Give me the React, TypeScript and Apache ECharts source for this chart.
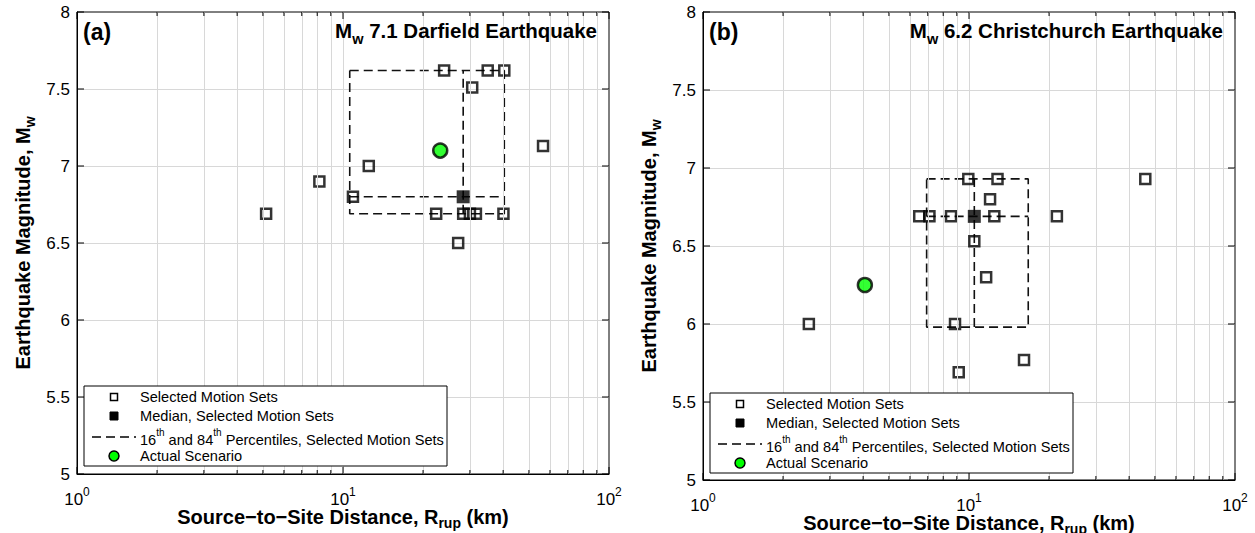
import React, { useEffect, useRef } from 'react';
import * as echarts from 'echarts';

// ---------- data ----------
const yTicks = [5, 5.5, 6, 6.5, 7, 7.5, 8];

// Panel (a) Mw 7.1 Darfield
const aSelR = [24.0, 35.0, 40.4, 30.6, 56.5, 12.5, 8.15, 10.9, 22.4, 28.3, 30.0, 31.6, 40.1, 27.1, 5.14];
const aSelM = [7.62, 7.62, 7.62, 7.51, 7.13, 7.0, 6.9, 6.8, 6.69, 6.69, 6.69, 6.69, 6.69, 6.5, 6.69];
const aMed = [28.3, 6.8];
const aPctR = [10.6, 40.4];
const aPctM = [6.69, 7.62];
const aAct = [23.2, 7.1];

// Panel (b) Mw 6.2 Christchurch
const bSelR = [9.94, 12.8, 12.0, 6.5, 7.1, 8.56, 12.45, 21.4, 10.47, 11.6, 8.86, 16.1, 9.15, 2.5, 46.0];
const bSelM = [6.93, 6.93, 6.8, 6.69, 6.69, 6.69, 6.69, 6.69, 6.53, 6.3, 6.0, 5.77, 5.69, 6.0, 6.93];
const bMed = [10.47, 6.69];
const bPctR = [6.93, 16.7];
const bPctM = [5.98, 6.93];
const bAct = [4.06, 6.25];

const FONT = '"Liberation Sans", Arial, Helvetica, sans-serif';

// tick positions on log axis (axis furniture)
const xTickVals: number[] = [];
for (let d = 1; d <= 10; d *= 10) for (let k = 1; k <= 9; k++) xTickVals.push(k * d);
xTickVals.push(100);
const xMinorGrid = xTickVals.filter((v) => v !== 1 && v !== 10 && v !== 100);

const panels = [
  { selR: aSelR, selM: aSelM, med: aMed, pctR: aPctR, pctM: aPctM, act: aAct,
    grid: { left: 77, top: 12, width: 532, height: 462 }, label: '(a)', title: ' 7.1 Darfield Earthquake',
    legend: { x: 84, y: 386, w: 363, h: 80 } },
  { selR: bSelR, selM: bSelM, med: bMed, pctR: bPctR, pctM: bPctM, act: bAct,
    grid: { left: 703, top: 12, width: 532, height: 468 }, label: '(b)', title: ' 6.2 Christchurch Earthquake',
    legend: { x: 710, y: 393, w: 363, h: 80 } },
];

function legendGraphics(L: { x: number; y: number; w: number; h: number }) {
  const mx = L.x + 30;
  const tx = L.x + 56;
  const rows = [L.y + 11, L.y + 30, L.y + 51, L.y + 70];
  const z = 100;
  const txt = (y: number, text: string, rich?: any) => ({
    type: 'text', z, x: tx, y,
    style: { text, fill: '#000', font: `14.6px ${FONT}`, verticalAlign: 'middle', align: 'left', rich },
  });
  return [
    { type: 'rect', z, shape: { x: L.x, y: L.y, width: L.w, height: L.h }, style: { fill: '#fff', stroke: '#000', lineWidth: 1 } },
    { type: 'rect', z, shape: { x: mx - 3.5, y: rows[0] - 3.5, width: 7, height: 7 }, style: { fill: '#fff', stroke: '#000', lineWidth: 1.5 } },
    { type: 'rect', z, shape: { x: mx - 4, y: rows[1] - 4, width: 8, height: 8 }, style: { fill: '#000', stroke: '#000', lineWidth: 1 } },
    { type: 'line', z, shape: { x1: L.x + 8, y1: rows[2], x2: L.x + 52, y2: rows[2] }, style: { stroke: '#000', lineWidth: 1.5, lineDash: [9, 5] } },
    { type: 'circle', z, shape: { cx: mx, cy: rows[3], r: 5 }, style: { fill: '#00ff00', stroke: '#000', lineWidth: 1.5 } },
    txt(rows[0], 'Selected Motion Sets'),
    txt(rows[1], 'Median, Selected Motion Sets'),
    txt(rows[2], '{t|16}{s|th}{t| and 84}{s|th}{t| Percentiles, Selected Motion Sets}', {
      t: { fontSize: 14.6, fontFamily: FONT, fill: '#000', verticalAlign: 'bottom', lineHeight: 20 },
      s: { fontSize: 10, fontFamily: FONT, fill: '#000', verticalAlign: 'top', lineHeight: 20 },
    }),
    txt(rows[3], 'Actual Scenario'),
  ];
}

export default function App() {
  const ref = useRef<HTMLDivElement>(null);
  useEffect(() => {
    if (!ref.current) return;
    const chart = echarts.init(ref.current, undefined, { renderer: 'svg' });

    const grids: any[] = [];
    const xAxes: any[] = [];
    const yAxes: any[] = [];
    const series: any[] = [];
    const graphics: any[] = [];

    panels.forEach((p, i) => {
      grids.push({ ...p.grid, show: true, borderColor: '#000', borderWidth: 1, backgroundColor: 'transparent', containLabel: false, outerBoundsMode: 'none' });
      xAxes.push({
        type: 'log', logBase: 10, min: 1, max: 100, gridIndex: i,
        axisLine: { show: true, lineStyle: { color: '#000', width: 1 } },
        axisTick: { show: false },
        splitLine: { show: true, showMinLine: false, showMaxLine: false, lineStyle: { color: '#d8d8d8', width: 1 } },
        axisLabel: {
          margin: 12, color: '#000',
          formatter: (v: number) => `{b|10}{s|${Math.round(Math.log10(v))}}`,
          rich: {
            b: { fontSize: 17, fontFamily: FONT, color: '#000', verticalAlign: 'bottom', lineHeight: 22 },
            s: { fontSize: 12, fontFamily: FONT, color: '#000', verticalAlign: 'top', lineHeight: 22 },
          },
        },
        name: 'Source\u2212to\u2212Site Distance, R{s|rup} (km)',
        nameLocation: 'middle', nameGap: 30, nameMoveOverlap: false,
        nameTextStyle: {
          fontSize: 20, fontWeight: 'bold', fontFamily: FONT, color: '#000', lineHeight: 26, verticalAlign: 'top',
          rich: { s: { fontSize: 14, fontWeight: 'bold', fontFamily: FONT, color: '#000', verticalAlign: 'bottom', lineHeight: 26 } },
        },
      });
      yAxes.push({
        type: 'value', min: 5, max: 8, interval: 0.5, gridIndex: i,
        axisLine: { show: true, lineStyle: { color: '#000', width: 1 } },
        axisTick: { show: false },
        splitLine: { show: true, showMinLine: false, showMaxLine: false, lineStyle: { color: '#d8d8d8', width: 1 } },
        axisLabel: { margin: 7, color: '#000', fontSize: 17, fontFamily: FONT },
        name: 'Earthquake Magnitude, M{s|w}',
        nameLocation: 'middle', nameGap: 40, nameRotate: 90, nameMoveOverlap: false,
        nameTextStyle: {
          fontSize: 20, fontWeight: 'bold', fontFamily: FONT, color: '#000', lineHeight: 28,
          rich: { s: { fontSize: 14, fontWeight: 'bold', fontFamily: FONT, color: '#000', verticalAlign: 'bottom', lineHeight: 28 } },
        },
      });

      // minor vertical grid lines
      series.push({
        type: 'line', xAxisIndex: i, yAxisIndex: i, data: [], silent: true, z: 1,
        markLine: {
          silent: true, symbol: ['none', 'none'], label: { show: false },
          lineStyle: { color: '#d8d8d8', width: 1, type: 'solid' },
          data: xMinorGrid.map((v) => ({ xAxis: v })),
        },
      });

      // percentile box and median cross
      const dash = { color: '#111', width: 1.6, type: [9, 5] };
      series.push({
        type: 'line', xAxisIndex: i, yAxisIndex: i, symbol: 'none', z: 2, silent: true, lineStyle: dash,
        data: [[p.pctR[0], p.pctM[1]], [p.pctR[1], p.pctM[1]], [p.pctR[1], p.pctM[0]], [p.pctR[0], p.pctM[0]], [p.pctR[0], p.pctM[1]]],
      });
      series.push({
        type: 'line', xAxisIndex: i, yAxisIndex: i, symbol: 'none', z: 2, silent: true, lineStyle: dash,
        data: [[p.med[0], p.pctM[0]], [p.med[0], p.pctM[1]]],
      });
      series.push({
        type: 'line', xAxisIndex: i, yAxisIndex: i, symbol: 'none', z: 2, silent: true, lineStyle: dash,
        data: [[p.pctR[0], p.med[1]], [p.pctR[1], p.med[1]]],
      });

      // selected motion sets
      series.push({
        type: 'scatter', xAxisIndex: i, yAxisIndex: i, symbol: 'rect', symbolSize: 10, z: 3,
        itemStyle: { color: 'rgba(0,0,0,0)', borderColor: '#000', borderWidth: 2.5 },
        data: p.selR.map((r, k) => [r, p.selM[k]]),
      });
      // median
      series.push({
        type: 'scatter', xAxisIndex: i, yAxisIndex: i, symbol: 'rect', symbolSize: 13, z: 4,
        itemStyle: { color: '#000', borderColor: '#000', borderWidth: 0 },
        data: [p.med],
      });
      // actual scenario
      series.push({
        type: 'scatter', xAxisIndex: i, yAxisIndex: i, symbol: 'circle', symbolSize: 14, z: 5,
        itemStyle: { color: '#00ff00', borderColor: '#000', borderWidth: 2.5 },
        data: [p.act],
      });

      // tick marks (inside, all four sides)
      series.push({
        type: 'custom', xAxisIndex: i, yAxisIndex: i, silent: true, z: 6, clip: false,
        data: xTickVals.map((v) => [v, 5]),
        renderItem: (params: any, api: any) => {
          const v = api.value(0);
          const b = api.coord([v, 5]);
          const t = api.coord([v, 8]);
          const major = Math.abs(Math.log10(v) - Math.round(Math.log10(v))) < 1e-9;
          const len = major ? 7 : 4;
          const st = { stroke: '#000', lineWidth: 1 };
          return {
            type: 'group',
            children: [
              { type: 'line', shape: { x1: b[0], y1: b[1], x2: b[0], y2: b[1] - len }, style: st },
              { type: 'line', shape: { x1: t[0], y1: t[1], x2: t[0], y2: t[1] + len }, style: st },
            ],
          };
        },
      });
      series.push({
        type: 'custom', xAxisIndex: i, yAxisIndex: i, silent: true, z: 6, clip: false,
        data: yTicks.map((v) => [1, v]),
        renderItem: (params: any, api: any) => {
          const v = api.value(1);
          const l = api.coord([1, v]);
          const r = api.coord([100, v]);
          const st = { stroke: '#000', lineWidth: 1 };
          return {
            type: 'group',
            children: [
              { type: 'line', shape: { x1: l[0], y1: l[1], x2: l[0] + 7, y2: l[1] }, style: st },
              { type: 'line', shape: { x1: r[0], y1: r[1], x2: r[0] - 7, y2: r[1] }, style: st },
            ],
          };
        },
      });

      // panel label and title
      const g = p.grid;
      graphics.push({
        type: 'text', z: 100, x: g.left + 6, y: g.top + 20,
        style: { text: p.label, fill: '#000', font: `bold 23px ${FONT}`, verticalAlign: 'middle', align: 'left' },
      });
      graphics.push({
        type: 'text', z: 100, x: g.left + g.width - 12, y: g.top + 21,
        style: {
          text: '{m|M}{s|w}{m|' + p.title + '}', fill: '#000', align: 'right', verticalAlign: 'middle',
          font: `bold 20.5px ${FONT}`,
          rich: {
            m: { fontSize: 20.5, fontWeight: 'bold', fontFamily: FONT, fill: '#000', verticalAlign: 'top', lineHeight: 22 },
            s: { fontSize: 14.5, fontWeight: 'bold', fontFamily: FONT, fill: '#000', verticalAlign: 'bottom', lineHeight: 27 },
          },
        },
      });
      graphics.push(...legendGraphics(p.legend));
    });

    chart.setOption({
      animation: false,
      backgroundColor: '#fff',
      textStyle: { fontFamily: FONT },
      grid: grids,
      xAxis: xAxes,
      yAxis: yAxes,
      series,
      graphic: graphics,
    });
    return () => chart.dispose();
  }, []);
  return <div ref={ref} style={{ position: 'absolute', left: 0, top: 0, width: 1255, height: 533 }} />;
}
